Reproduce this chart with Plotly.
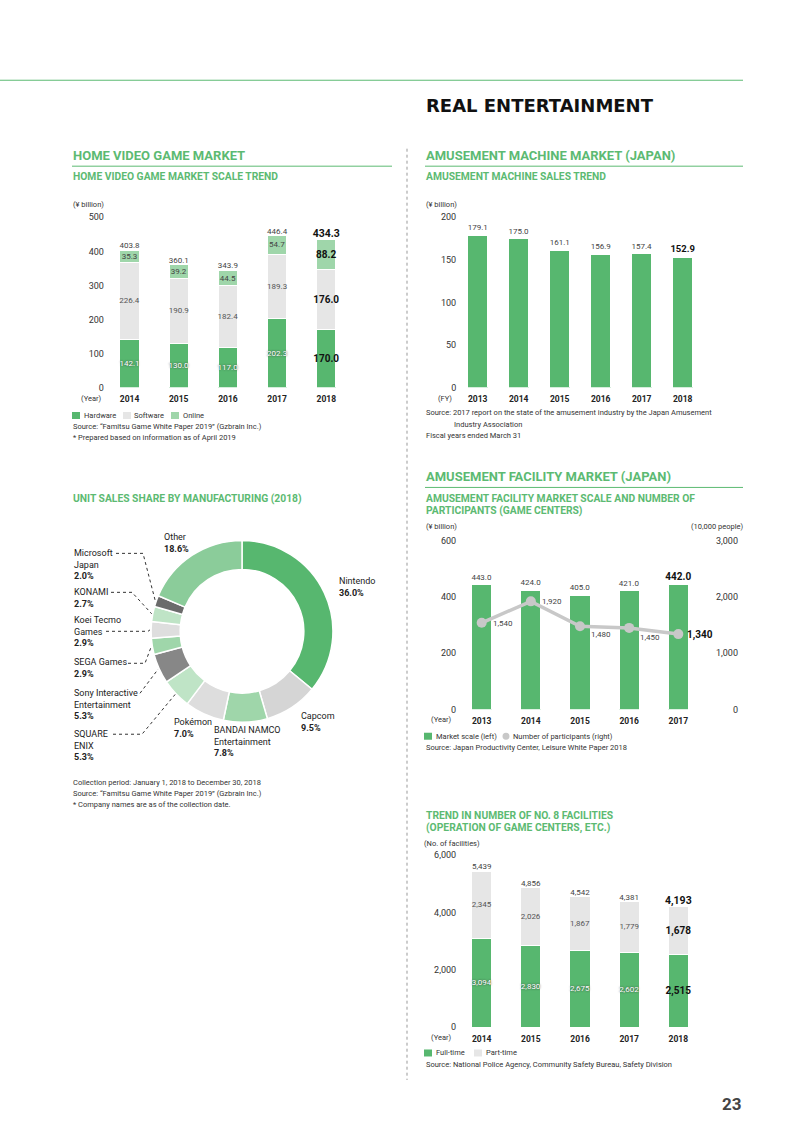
import math
import plotly.graph_objects as go

W, H = 800, 1140
FONT = 'Roboto'
GREEN = '#57b76f'
HEAD = '#5cba72'
LGRAY = '#e6e6e6'
LGREEN = '#9fd6aa'

# home video game market (¥ billion)
hv_years = ['2014', '2015', '2016', '2017', '2018']
hv_hardware = [142.1, 130.0, 117.0, 202.3, 170.0]
hv_software = [226.4, 190.9, 182.4, 189.3, 176.0]
hv_online = [35.3, 39.2, 44.5, 54.7, 88.2]
hv_total = [403.8, 360.1, 343.9, 446.4, 434.3]

# amusement machine sales (¥ billion)
am_years = ['2013', '2014', '2015', '2016', '2017', '2018']
am_sales = [179.1, 175.0, 161.1, 156.9, 157.4, 152.9]

# unit sales share 2018 (%)
share_names = ['Nintendo', 'Capcom', 'BANDAI NAMCO Entertainment', 'Pokémon', 'SQUARE ENIX',
	'Sony Interactive Entertainment', 'SEGA Games', 'Koei Tecmo Games', 'KONAMI', 'Microsoft Japan', 'Other']
share_values = [36.0, 9.5, 7.8, 7.0, 5.3, 5.3, 2.9, 2.9, 2.7, 2.0, 18.6]
share_colors = ['#57b76f', '#d5d5d5', '#9fd6aa', '#dddddd', '#bfe4c6', '#878787',
	'#9fd6aa', '#dedede', '#bfe4c6', '#6b6b6b', '#8bcc9a']

# amusement facility market
af_years = ['2013', '2014', '2015', '2016', '2017']
af_market = [443.0, 424.0, 405.0, 421.0, 442.0]
af_participants = [1540, 1920, 1480, 1450, 1340]

# No. 8 facilities
n8_years = ['2014', '2015', '2016', '2017', '2018']
n8_fulltime = [3094, 2830, 2675, 2602, 2515]
n8_parttime = [2345, 2026, 1867, 1779, 1678]
n8_total = [5439, 4856, 4542, 4381, 4193]


def px(x):
	return x / W

def py(y):
	# the photographed page comes out slightly squeezed vertically, so pre-correct
	return 1 - (y - 4.2) / 0.992 / H

def lab(vals, fmt):
	out = [fmt.format(v) for v in vals]
	out[-1] = '<b>' + out[-1] + '</b>'
	return out

def lab_font(n, color='#444', size=8, big=10):
	return dict(family=FONT, size=[size] * (n - 1) + [big], color=[color] * (n - 1) + ['#111'])

def white_font(n, big=10):
	return dict(family=FONT, size=[8] * (n - 1) + [big], color=['#ffffff'] * (n - 1) + ['#111'],
		shadow=['0px 0px 2px #333'] * (n - 1) + ['none'])

def bar(x, y, xa, ya, color, width, text=None, font=None, pos='inside'):
	return go.Bar(x=x, y=y, xaxis=xa, yaxis=ya, width=width,
		marker=dict(color=color, line=dict(color='white', width=1)),
		text=text, textposition=pos if text else 'none', insidetextanchor='middle',
		textangle=0, constraintext='none', textfont=font, cliponaxis=False,
		hoverinfo='skip', showlegend=False)

def totals(x, y, xa, ya, fmt, big=10.5):
	return go.Scatter(x=x, y=y, xaxis=xa, yaxis=ya, mode='text', text=lab(y, fmt),
		textposition='top center', textfont=lab_font(len(y), big=big),
		cliponaxis=False, hoverinfo='skip', showlegend=False)


fig = go.Figure()

# chart 1
fig.add_trace(bar(hv_years, hv_hardware, 'x', 'y', GREEN, 0.39, lab(hv_hardware, '{:.1f}'), white_font(5)))
fig.add_trace(bar(hv_years, hv_software, 'x', 'y', LGRAY, 0.39, lab(hv_software, '{:.1f}'), lab_font(5, '#555')))
fig.add_trace(bar(hv_years, hv_online, 'x', 'y', LGREEN, 0.39, lab(hv_online, '{:.1f}'), lab_font(5, '#444')))
fig.add_trace(totals(hv_years, hv_total, 'x', 'y', '{:.1f}'))

# chart 2
fig.add_trace(bar(am_years, am_sales, 'x2', 'y2', GREEN, 0.49, lab(am_sales, '{:.1f}'), lab_font(6, big=9.5), 'outside'))

# chart 3
fig.add_trace(bar(af_years, af_market, 'x3', 'y3', GREEN, 0.41, lab(af_market, '{:.1f}'), lab_font(5, big=10), 'outside'))
fig.add_trace(go.Scatter(x=af_years, y=af_participants, xaxis='x3', yaxis='y4', mode='lines+markers',
	line=dict(color='#c8c8c8', width=3.5), marker=dict(color='#c8c8c8', size=10),
	cliponaxis=False, hoverinfo='skip', showlegend=False))

# chart 4
fig.add_trace(bar(n8_years, n8_fulltime, 'x4', 'y5', GREEN, 0.41, lab(n8_fulltime, '{:,}'), white_font(5)))
fig.add_trace(bar(n8_years, n8_parttime, 'x4', 'y5', LGRAY, 0.41, lab(n8_parttime, '{:,}'), lab_font(5, '#555')))
fig.add_trace(totals(n8_years, n8_total, 'x4', 'y5', '{:,}'))

# donut
cx, cy, R = 242, 631, 91
fig.add_trace(go.Pie(labels=share_names, values=share_values, sort=False, direction='clockwise',
	rotation=0, hole=0.68, marker=dict(colors=share_colors, line=dict(color='white', width=1.5)),
	textinfo='none', hoverinfo='skip', showlegend=False,
	domain=dict(x=[px(cx - R), px(cx + R)], y=[py(cy + R), py(cy - R)])))


def xax(x0, x1, anchor, n):
	return dict(domain=[px(x0), px(x1)], anchor=anchor, type='category', range=[-0.5, n - 0.5],
		showgrid=False, zeroline=False, showline=False, ticks='', ticklabelstandoff=5,
		tickfont=dict(family=FONT, size=8.5, color='#222', weight='bold'))

def yax(y0, y1, anchor, rng, step, fmt=''):
	vals = list(range(0, rng + 1, step))
	return dict(domain=[py(y0), py(y1)], anchor=anchor, range=[0, rng], tickvals=vals, tickformat=fmt,
		showgrid=False, zeroline=False, showline=False, ticks='',
		tickfont=dict(family=FONT, size=9, color='#333'))


ann = []
shapes = []

def txt(x, y, s, size=7.5, color='#333', bold=False, anchor='left', family=FONT):
	ann.append(dict(x=px(x), y=py(y), xref='paper', yref='paper', text=s, showarrow=False,
		xanchor=anchor, yanchor='middle', borderpad=0,
		font=dict(family=family, size=size, color=color, weight='bold' if bold else 'normal')))

def lines(x, y, rows, size=9, step=11.5):
	for i, r in enumerate(rows):
		bold = r.endswith('%')
		txt(x, y + i * step, r, size=size, color='#222', bold=bold)

def hline(x0, x1, y, color=HEAD, width=1, dash='solid'):
	shapes.append(dict(type='line', xref='paper', yref='paper', x0=px(x0), x1=px(x1), y0=py(y), y1=py(y),
		line=dict(color=color, width=width, dash=dash)))

def key(x, y, color, circle=False):
	shapes.append(dict(type='circle' if circle else 'rect', xref='paper', yref='paper',
		x0=px(x - 3.5 if circle else x), x1=px(x + 3.5 if circle else x + 8),
		y0=py(y + 3.5), y1=py(y - 3.5), fillcolor=color, line=dict(width=0)))


# participant labels sit to the right / lower right of each point (x given as category index)
part_text = lab(af_participants, '{:,}')
shifts = [(9, -1), (9, 0), (9, -8), (9, -10), (7, -1)]
for i, v in enumerate(af_participants):
	last = i == len(af_participants) - 1
	ann.append(dict(x=i, y=v, xref='x3', yref='y4', text=part_text[i],
		showarrow=False, xanchor='left', yanchor='middle', xshift=shifts[i][0], yshift=shifts[i][1],
		font=dict(family=FONT, size=10 if last else 8, color='#111' if last else '#444')))

# page header
hline(0, 743, 79.5)
txt(425, 105, 'REAL ENTERTAINMENT', size=18, color='#111', bold=True, family='DejaVu Sans')
shapes.append(dict(type='line', xref='paper', yref='paper', x0=px(407), x1=px(407), y0=py(148), y1=py(1080),
	line=dict(color='#999', width=1, dash='dot')))
txt(743, 1104, '23', size=17, color='#444', bold=True, anchor='right')

# chart 1 text
txt(72, 155, 'HOME VIDEO GAME MARKET', size=13, color=HEAD, bold=True)
hline(72, 392, 165.5)
txt(72, 176, 'HOME VIDEO GAME MARKET SCALE TREND', size=10.3, color=HEAD, bold=True)
txt(72, 204, '(¥ billion)', size=7.5)
txt(103, 398.5, '(Year)', size=7.5, anchor='right')
key(72, 415, GREEN); txt(83, 415, 'Hardware')
key(123, 415, LGRAY); txt(133, 415, 'Software')
key(171, 415, LGREEN); txt(182, 415, 'Online')
txt(72, 426, 'Source: “Famitsu Game White Paper 2019” (Gzbrain Inc.)')
txt(72, 437.5, '* Prepared based on information as of April 2019')

# chart 2 text
txt(425, 155, 'AMUSEMENT MACHINE MARKET (JAPAN)', size=13, color=HEAD, bold=True)
hline(425, 743, 165.5)
txt(425, 176, 'AMUSEMENT MACHINE SALES TREND', size=10.3, color=HEAD, bold=True)
txt(425, 204, '(¥ billion)', size=7.5)
txt(453, 398.5, '(FY)', size=7.5, anchor='right')
txt(425, 412.5, 'Source: 2017 report on the state of the amusement industry by the Japan Amusement')
txt(453, 424, 'Industry Association')
txt(425, 435.5, 'Fiscal years ended March 31')

# donut text
txt(72, 498, 'UNIT SALES SHARE BY MANUFACTURING (2018)', size=10.3, color=HEAD, bold=True)
lines(163, 537, ['Other', '18.6%'])
lines(73, 553, ['Microsoft', 'Japan', '2.0%'])
lines(73, 592, ['KONAMI', '2.7%'])
lines(73, 620, ['Koei Tecmo', 'Games', '2.9%'])
lines(73, 662, ['SEGA Games', '2.9%'])
lines(73, 693, ['Sony Interactive', 'Entertainment', '5.3%'])
lines(73, 734, ['SQUARE', 'ENIX', '5.3%'])
lines(173, 722, ['Pokémon', '7.0%'])
lines(213, 730, ['BANDAI NAMCO', 'Entertainment', '7.8%'])
lines(300, 716, ['Capcom', '9.5%'])
lines(338, 581, ['Nintendo', '36.0%'])
txt(72, 782, 'Collection period: January 1, 2018 to December 30, 2018')
txt(72, 793, 'Source: “Famitsu Game White Paper 2019” (Gzbrain Inc.)')
txt(72, 804, '* Company names are as of the collection date.')

# leader lines from the labels to the middle of each small slice
tot = sum(share_values)
mids = []
cum = 0
for v in share_values:
	mids.append((cum + v / 2) / tot * 2 * math.pi)
	cum += v
leaders = {9: (116, 553, 143), 8: (111, 592, 132), 7: (106, 631, 148), 6: (128, 663, 145),
	5: (140, 693, 140), 4: (113, 734, 142)}
for i, (x0, y0, xe) in leaders.items():
	ex = cx + (R + 1) * math.sin(mids[i])
	ey = cy - (R + 1) * math.cos(mids[i])
	path = 'M {} {} L {} {} L {} {}'.format(px(x0), py(y0), px(xe), py(y0), px(ex), py(ey))
	shapes.append(dict(type='path', xref='paper', yref='paper', path=path,
		line=dict(color='#333', width=1, dash='dot')))

# chart 3 text
txt(425, 476, 'AMUSEMENT FACILITY MARKET (JAPAN)', size=13, color=HEAD, bold=True)
hline(425, 743, 487)
txt(425, 498.5, 'AMUSEMENT FACILITY MARKET SCALE AND NUMBER OF', size=10.3, color=HEAD, bold=True)
txt(425, 510.5, 'PARTICIPANTS (GAME CENTERS)', size=10.3, color=HEAD, bold=True)
txt(425, 526.5, '(¥ billion)', size=7.5)
txt(744, 526.5, '(10,000 people)', size=7.5, anchor='right')
txt(453, 719, '(Year)', size=7.5, anchor='right')
key(424, 736, GREEN); txt(435, 736, 'Market scale (left)')
key(506, 736, '#c8c8c8', circle=True); txt(512, 736, 'Number of participants (right)')
txt(425, 747, 'Source: Japan Productivity Center, Leisure White Paper 2018')

# chart 4 text
txt(425, 815, 'TREND IN NUMBER OF NO. 8 FACILITIES', size=10.3, color=HEAD, bold=True)
txt(425, 827, '(OPERATION OF GAME CENTERS, ETC.)', size=10.3, color=HEAD, bold=True)
txt(423, 843, '(No. of facilities)', size=7.5)
txt(453, 1038, '(Year)', size=7.5, anchor='right')
key(424, 1053, GREEN); txt(435, 1053, 'Full-time')
key(474, 1053, LGRAY); txt(485, 1053, 'Part-time')
txt(425, 1064.5, 'Source: National Police Agency, Community Safety Bureau, Safety Division')


fig.update_layout(
	width=W, height=H, autosize=False, margin=dict(l=0, r=0, t=0, b=0),
	paper_bgcolor='white', plot_bgcolor='white', showlegend=False, barmode='stack',
	font=dict(family=FONT, color='#333'),
	xaxis=xax(104.9, 350.9, 'y', 5), yaxis=yax(387, 216.7, 'x', 500, 100),
	xaxis2=xax(457.2, 703.2, 'y2', 6), yaxis2=yax(387, 216.7, 'x2', 200, 50),
	xaxis3=xax(457.1, 702.9, 'y3', 5), yaxis3=yax(709.5, 540, 'x3', 600, 200),
	xaxis4=xax(457.1, 702.9, 'y5', 5), yaxis5=yax(1027, 855, 'x4', 6000, 2000, ','),
	annotations=ann, shapes=shapes,
)
y4 = yax(709.5, 540, 'free', 3000, 1000, ',')
y4.update(overlaying='y3', side='left', position=px(738))
fig.update_layout(yaxis4=y4)

# page body margin would push the fixed-size figure off the window
fig.write_html('out.html', config={'displayModeBar': False},
	post_script="document.body.style.margin='0';")
